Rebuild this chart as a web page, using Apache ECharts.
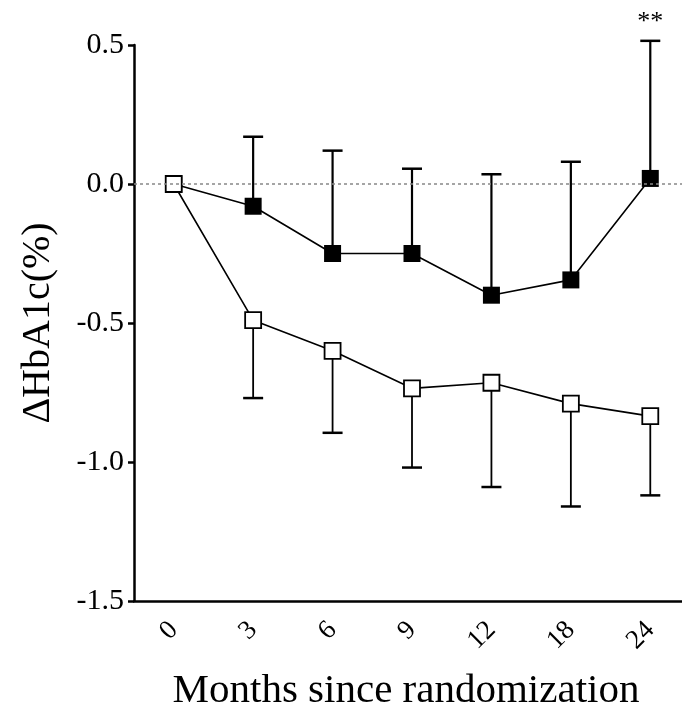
<!DOCTYPE html>
<html>
<head>
<meta charset="utf-8">
<script src="https://cdn.jsdelivr.net/npm/echarts@6/dist/echarts.min.js"></script>
<style>
html,body{margin:0;padding:0;background:#fff;}
#main{width:682px;height:709px;}
</style>
</head>
<body>
<div id="main"></div>
<script>
// months since randomization
var months = ['0', '3', '6', '9', '12', '18', '24'];
// filled squares (mean, upper SD)
var filledMean = [0, -0.08, -0.25, -0.25, -0.40, -0.345, 0.02];
var filledSD = [0, 0.25, 0.37, 0.305, 0.435, 0.425, 0.495];
var filledSig = ['', '', '', '', '', '', '**'];
// open squares (mean, lower SD)
var openMean = [0, -0.49, -0.60, -0.735, -0.715, -0.79, -0.835];
var openSD = [0, 0.28, 0.295, 0.285, 0.375, 0.37, 0.285];
var openSig = ['', '', '', '', '', '', ''];

var serif = '"Liberation Serif", "DejaVu Serif", serif';

function barData(mean, sd, sig, dir){
	var out = [];
	for(var i = 0; i < mean.length; i++){
		if(sd[i] > 0){
			out.push([i, mean[i], mean[i] + dir * sd[i], sig[i]]);
		}
	}
	return out;
}

function errorBar(width){
	return function(params, api){
		var p0 = api.coord([api.value(0), api.value(1)]);
		var p1 = api.coord([api.value(0), api.value(2)]);
		var cap = 10;
		var st = {stroke: '#000', lineWidth: width};
		var kids = [
			{type: 'line', shape: {x1: p0[0], y1: p0[1], x2: p1[0], y2: p1[1]}, style: st},
			{type: 'line', shape: {x1: p1[0] - cap, y1: p1[1], x2: p1[0] + cap, y2: p1[1]}, style: {stroke: '#000', lineWidth: 2.5}}
		];
		var mark = api.value(3);
		if(mark && mark !== '-'){
			kids.push({type: 'text', style: {x: p1[0], y: p1[1] - 6, text: String(mark), fill: '#000',
				font: '26px ' + serif, align: 'center', verticalAlign: 'bottom'}});
		}
		return {type: 'group', children: kids};
	};
}

var myChart = echarts.init(document.getElementById('main'));
var option = {
	animation: false,
	backgroundColor: '#fff',
	grid: {left: 134, width: 556, top: 45, bottom: 108, containLabel: false, outerBoundsMode: 'none'},
	xAxis: {
		type: 'category',
		data: months,
		name: 'Months since randomization',
		nameLocation: 'middle',
		nameGap: 70,
		nameTextStyle: {fontFamily: serif, fontSize: 41, color: '#000', padding: [0, 12, 0, 0]},
		axisLine: {onZero: false, lineStyle: {color: '#000', width: 2.5}},
		axisTick: {alignWithLabel: true, length: 7, lineStyle: {color: '#000', width: 2.5}},
		axisLabel: {rotate: 45, margin: 25, fontFamily: serif, fontSize: 27, color: '#000'}
	},
	yAxis: {
		type: 'value',
		min: -1.5,
		max: 0.5,
		interval: 0.5,
		name: 'ΔHbA1c(%)',
		nameLocation: 'middle',
		nameGap: 76,
		nameRotate: 90,
		nameTextStyle: {fontFamily: serif, fontSize: 40, color: '#000'},
		axisLine: {show: true, lineStyle: {color: '#000', width: 2.5}},
		axisTick: {show: true, length: 6, lineStyle: {color: '#000', width: 2.5}},
		splitLine: {show: false},
		axisLabel: {margin: 10, fontFamily: serif, fontSize: 30, color: '#000',
			formatter: function(v){ return v.toFixed(1); }}
	},
	series: [
		{
			type: 'custom',
			renderItem: errorBar(2.2),
			data: barData(filledMean, filledSD, filledSig, 1),
			encode: {x: 0, y: [1, 2]},
			z: 1,
			silent: true
		},
		{
			type: 'custom',
			renderItem: errorBar(1.8),
			data: barData(openMean, openSD, openSig, -1),
			encode: {x: 0, y: [1, 2]},
			z: 1,
			silent: true
		},
		{
			type: 'line',
			data: filledMean,
			symbol: 'rect',
			symbolSize: 17,
			lineStyle: {color: '#000', width: 1.6},
			itemStyle: {color: '#000'},
			z: 3,
			markLine: {
				silent: true,
				symbol: 'none',
				label: {show: false},
				lineStyle: {color: '#888', type: [3, 3], width: 1.5},
				data: [{yAxis: 0}]
			}
		},
		{
			type: 'line',
			data: openMean,
			symbol: 'rect',
			symbolSize: 16,
			lineStyle: {color: '#000', width: 1.6},
			itemStyle: {color: '#fff', borderColor: '#000', borderWidth: 1.8},
			z: 4
		}
	]
};
myChart.setOption(option);
</script>
</body>
</html>
